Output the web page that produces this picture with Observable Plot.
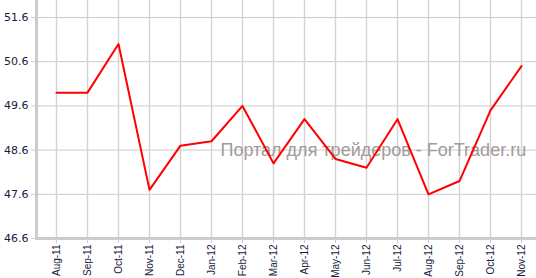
<!DOCTYPE html>
<html>
<head>
<meta charset="utf-8">
<script src="https://cdn.jsdelivr.net/npm/d3@7"></script>
<script src="https://cdn.jsdelivr.net/npm/@observablehq/plot@0.6"></script>
<style>
  html, body { margin: 0; padding: 0; background: #fff; }
  svg { display: block; }
</style>
</head>
<body>
<div id="chart"></div>
<script>
const months = ["Aug-11","Sep-11","Oct-11","Nov-11","Dec-11","Jan-12","Feb-12","Mar-12","Apr-12","May-12","Jun-12","Jul-12","Aug-12","Sep-12","Oct-12","Nov-12"];
const values = [49.9, 49.9, 51.0, 47.7, 48.7, 48.8, 49.6, 48.3, 49.3, 48.4, 48.2, 49.3, 47.6, 47.9, 49.5, 50.5];
const yTicks = [46.6, 47.6, 48.6, 49.6, 50.6, 51.6];
const watermark = "Портал для трейдеров - ForTrader.ru";

const data = months.map((m, i) => ({month: m, value: values[i]}));

const chart = Plot.plot({
  width: 536,
  height: 278,
  marginLeft: 36,
  marginRight: 0,
  marginTop: 0,
  marginBottom: 40,
  style: {fontFamily: "DejaVu Sans", fontSize: "10px", color: "#1a1a40", background: "#fff"},
  x: {type: "point", domain: months, range: [53, 524.3], padding: 0},
  y: {domain: [46.6, 51.985]},
  marks: [
    Plot.ruleY(yTicks, {stroke: "#cccccc", strokeWidth: 1}),
    Plot.ruleX(months, {stroke: "#d4d4d4", strokeWidth: 1.5}),
    Plot.text([watermark], {frameAnchor: "top-left", dx: 184, dy: 150, textAnchor: "start", lineAnchor: "middle", fill: "#a39a9a", fontSize: 18, fontFamily: "Liberation Sans"}),
    Plot.ruleY([46.6], {stroke: "#cccccc", strokeWidth: 3}),
    Plot.frame({anchor: "left", stroke: "#cccccc", strokeWidth: 3}),
    Plot.axisY({ticks: yTicks, tickSize: 5, tickPadding: 3, tickFormat: d => d.toFixed(1), stroke: "#cccccc", fill: "#1a1a40", fontSize: 11, label: null}),
    Plot.axisX({tickRotate: -90, tickSize: 5, tickPadding: 1, stroke: "#cccccc", fill: "#1a1a40", fontSize: 10, fontFamily: "Liberation Sans", label: null}),
    Plot.lineY(data, {x: "month", y: "value", stroke: "#ff0000", strokeWidth: 2})
  ]
});
document.getElementById("chart").appendChild(chart);
</script>
</body>
</html>
